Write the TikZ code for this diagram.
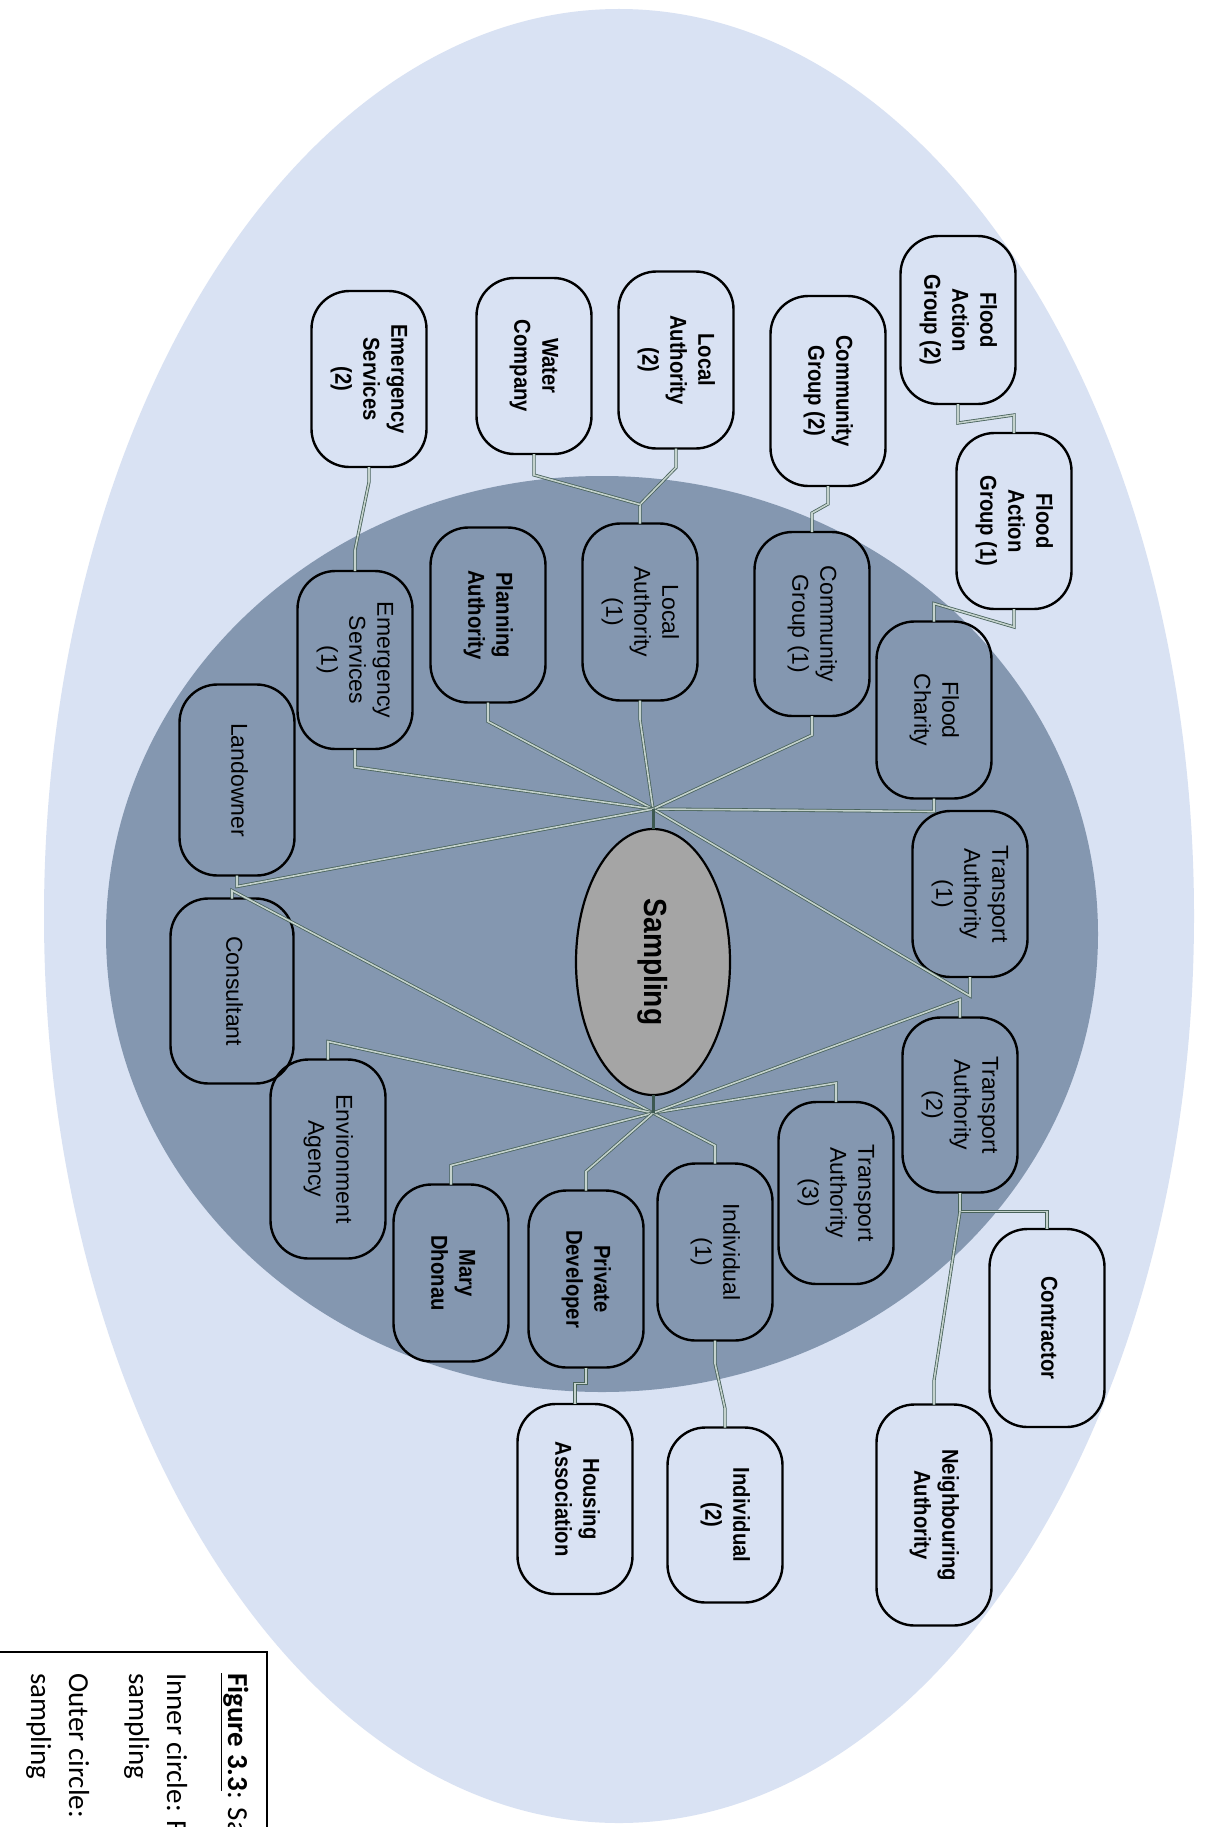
\documentclass[tikz,border=0pt]{standalone}
\usepackage{fontspec}
\usepackage{graphicx}
\setmainfont{Liberation Sans}
\newfontfamily\nfont{Liberation Sans}
\newfontfamily\bfont[FakeStretch=0.88]{Liberation Sans}
\newfontfamily\capfont{Carlito}
\usetikzlibrary{shapes.geometric,calc}
\definecolor{outerblue}{RGB}{217,226,243}
\definecolor{innerblue}{RGB}{132,151,176}
\definecolor{sampgray}{RGB}{165,165,165}
\definecolor{connline}{RGB}{72,98,90}
\definecolor{connfill}{RGB}{196,210,204}
\definecolor{stemcol}{RGB}{60,88,80}
\newcommand\rtxt[1]{\rotatebox{-90}{\begin{tabular}{@{}c@{}}#1\end{tabular}}}
\tikzset{
  box/.style={draw=black, line width=2.4pt, rounded corners=38pt, minimum width=115pt, inner sep=0pt, outer sep=0pt},
  reg/.style={box, font=\nfont\fontsize{23}{28}\selectfont},
  bld/.style={box, font=\bfont\bfseries\fontsize{23}{28}\selectfont},
  conn/.style={draw=connline, double=connfill, line width=0.8pt, double distance=1.6pt},
  stem/.style={draw=stemcol, line width=3pt},
  captext/.style={rotate=-90, inner sep=0pt, anchor=base west, font=\capfont\fontsize{29}{38}\selectfont}
}
\begin{document}
\begin{tikzpicture}[x=1pt,y=-1pt]
\useasboundingbox (0,0) rectangle (1208,1827);
\clip (0,0) rectangle (1208,1827);
\fill[white] (0,0) rectangle (1208,1827);
% background ellipses
\fill[outerblue] (619,916) ellipse [x radius=575pt, y radius=907pt];
\fill[innerblue] (602,934) ellipse [x radius=496pt, y radius=458pt];

% central node
\node[ellipse, draw=black, fill=sampgray, line width=2.2pt, minimum width=154pt, minimum height=266pt, inner sep=0pt, outer sep=0pt,
  font=\bfont\bfseries\fontsize{32}{38}\selectfont] (sampling) at (653,962) {\rotatebox{-90}{Sampling}};

% boxes
\node[bld, minimum height=168pt] (fagtwo) at (958,320) {\rtxt{Flood\\Action\\Group (2)}};
\node[bld, minimum height=176pt] (fagone) at (1014,521) {\rtxt{Flood\\Action\\Group (1)}};
\node[bld, minimum height=190pt] (cgtwo) at (828,391) {\rtxt{Community\\Group (2)}};
\node[bld, minimum height=177pt] (latwo) at (676,360) {\rtxt{Local\\Authority\\(2)}};
\node[bld, minimum height=176pt] (water) at (534,366) {\rtxt{Water\\Company}};
\node[bld, minimum height=176pt] (estwo) at (369,379) {\rtxt{Emergency\\Services\\(2)}};
\node[reg, minimum height=178pt] (esone) at (355,660) {\rtxt{Emergency\\Services\\(1)}};
\node[bld, minimum height=175pt] (planning) at (488,615) {\rtxt{Planning\\Authority}};
\node[reg, minimum height=177pt] (laone) at (640,612) {\rtxt{Local\\Authority\\(1)}};
\node[reg, minimum height=184pt] (cgone) at (812,624) {\rtxt{Community\\Group (1)}};
\node[reg, minimum height=177pt] (charity) at (934,710) {\rtxt{Flood\\Charity}};
\node[reg, minimum height=166pt] (taone) at (970,894) {\rtxt{Transport\\Authority\\(1)}};
\node[reg, minimum height=175pt] (tatwo) at (960,1105) {\rtxt{Transport\\Authority\\(2)}};
\node[reg, minimum height=182pt] (tathree) at (836,1193) {\rtxt{Transport\\Authority\\(3)}};
\node[bld, minimum height=198pt] (contractor) at (1047,1328) {\rtxt{Contractor}};
\node[bld, minimum height=221pt] (neighbour) at (934,1515) {\rtxt{Neighbouring\\Authority}};
\node[bld, minimum height=175pt] (indtwo) at (725,1515) {\rtxt{Individual\\(2)}};
\node[bld, minimum height=190pt] (housing) at (575,1499) {\rtxt{Housing\\Association}};
\node[bld, minimum height=177pt] (developer) at (586,1279) {\rtxt{Private\\Developer}};
\node[reg, minimum height=177pt] (indone) at (715,1252) {\rtxt{Individual\\(1)}};
\node[bld, minimum height=177pt] (mary) at (451,1273) {\rtxt{Mary\\Dhonau}};
\node[reg, minimum height=199pt] (envagency) at (328,1159) {\rtxt{Environment\\Agency}};
\node[reg, minimum width=123pt, minimum height=185pt] (consultant) at (232,991) {\rtxt{Consultant}};
\node[reg, minimum height=191pt] (landowner) at (237,780) {\rtxt{Landowner}};

% hubs
\coordinate (hubtop) at ($(sampling.north)+(0,-20)$);
\coordinate (hubbot) at ($(sampling.south)+(0,18)$);

% connectors to the top hub
\draw[conn] (charity.south) -- ++(0,13) -- (hubtop);
\draw[conn] (taone.south) -- ++(0,19) -- (hubtop);
\draw[conn] (cgone.south) -- ++(0,19) -- (hubtop);
\draw[conn] (laone.south) -- ++(0,19) -- (hubtop);
\draw[conn] (planning.south) -- ++(0,19) -- (hubtop);
\draw[conn] (esone.south) -- ++(0,18) -- (hubtop);
\draw[conn] (landowner.south) -- ++(0,11) -- (hubtop);
% connectors to the bottom hub
\draw[conn] (consultant.north) -- ++(0,-8) -- (hubbot);
\draw[conn] (envagency.north) -- ++(0,-18) -- (hubbot);
\draw[conn] (mary.north) -- ++(0,-19) -- (hubbot);
\draw[conn] (developer.north) -- ++(0,-19) -- (hubbot);
\draw[conn] (indone.north) -- ++(0,-18) -- (hubbot);
\draw[conn] (tathree.north) -- ++(0,-19) -- (hubbot);
\draw[conn] (tatwo.north) -- ++(0,-18) -- (hubbot);

% outer links
\draw[conn] (fagtwo.south) -- ++(0,19) -- ($(fagone.north)+(0,-18)$) -- (fagone.north);
\draw[conn] (fagone.south) -- ++(0,18) -- ($(charity.north)+(0,-18)$) -- (charity.north);
\draw[conn] (cgtwo.south) -- ++(0,18) -- ($(cgone.north)+(0,-19)$) -- (cgone.north);
\draw[conn] (latwo.south) -- ++(0,19) -- ($(laone.north)+(0,-19)$) coordinate (lajoin) -- (laone.north);
\draw[conn] (water.south) -- ++(0,21) -- (lajoin);
\draw[conn] (estwo.south) -- ++(0,15) -- ($(esone.north)+(0,-21)$) -- (esone.north);
\draw[conn] (indone.south) -- ++(0,23) -- ($(indtwo.north)+(0,-19)$) -- (indtwo.north);
\draw[conn] (developer.south) -- ++(0,16) -| (housing.north);
\draw[conn] (tatwo.south) -- ++(0,19) coordinate (tajoin) -| (contractor.north);
\draw[conn] (tajoin) -- ($(neighbour.north)+(0,-24)$) -- (neighbour.north);

% stems of the central node
\draw[stem] (sampling.north) -- (hubtop);
\draw[stem] (sampling.south) -- (hubbot);

% caption (cut off by the page edge, as in the reference)
\draw[line width=1.5pt] (-10,1652) rectangle (267,1900);
\node[captext] (capa) at (228,1673) {\textbf{\underline{Figure 3.3}}: Sa};
\node[captext] (capb) at (167,1673) {Inner circle: F};
\node[captext] (capc) at (129,1673) {sampling};
\node[captext] (capd) at (69,1673) {Outer circle:};
\node[captext] (cape) at (31,1673) {sampling};
\end{tikzpicture}
\end{document}
